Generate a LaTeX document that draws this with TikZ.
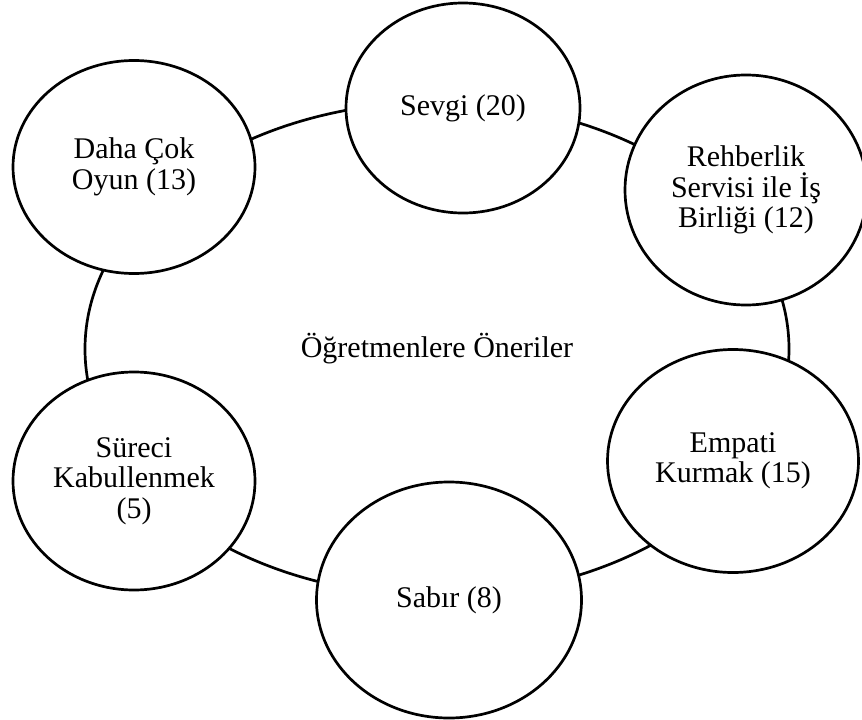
\documentclass[tikz,border=0pt]{standalone}
\usepackage{fontspec}
\setmainfont{Liberation Serif}
\usetikzlibrary{shapes.geometric}
\begin{document}
\begin{tikzpicture}[x=1pt,y=-1pt,
  bubble/.style={ellipse, draw, line width=2.7pt, fill=white, inner sep=0pt,
    align=center, font=\fontsize{30}{30.5}\selectfont},
  hubring/.style={bubble, fill=none}
]
\useasboundingbox (0,0) rectangle (862,720);
% the large ring that links all suggestions
\node[hubring, minimum width=704pt, minimum height=494pt] (hub) at (437,349) {Öğretmenlere Öneriler};
% suggestion bubbles placed on the ring
\node[bubble, minimum width=242pt, minimum height=213pt] (oyun) at (134,167) {Daha Çok\\Oyun (13)};
\node[bubble, minimum width=234pt, minimum height=210pt] (sevgi) at (463,108) {Sevgi (20)};
\node[bubble, minimum width=242pt, minimum height=230pt] (rehber) at (746,190) {Rehberlik\\Servisi ile İş\\Birliği (12)};
\node[bubble, minimum width=251pt, minimum height=223pt] (empati) at (733,461) {Empati\\Kurmak (15)};
\node[bubble, minimum width=265pt, minimum height=236pt] (sabir) at (449,600) {Sabır (8)};
\node[bubble, minimum width=242pt, minimum height=218pt] (surec) at (134,481) {Süreci\\Kabullenmek\\(5)};
\end{tikzpicture}
\end{document}
